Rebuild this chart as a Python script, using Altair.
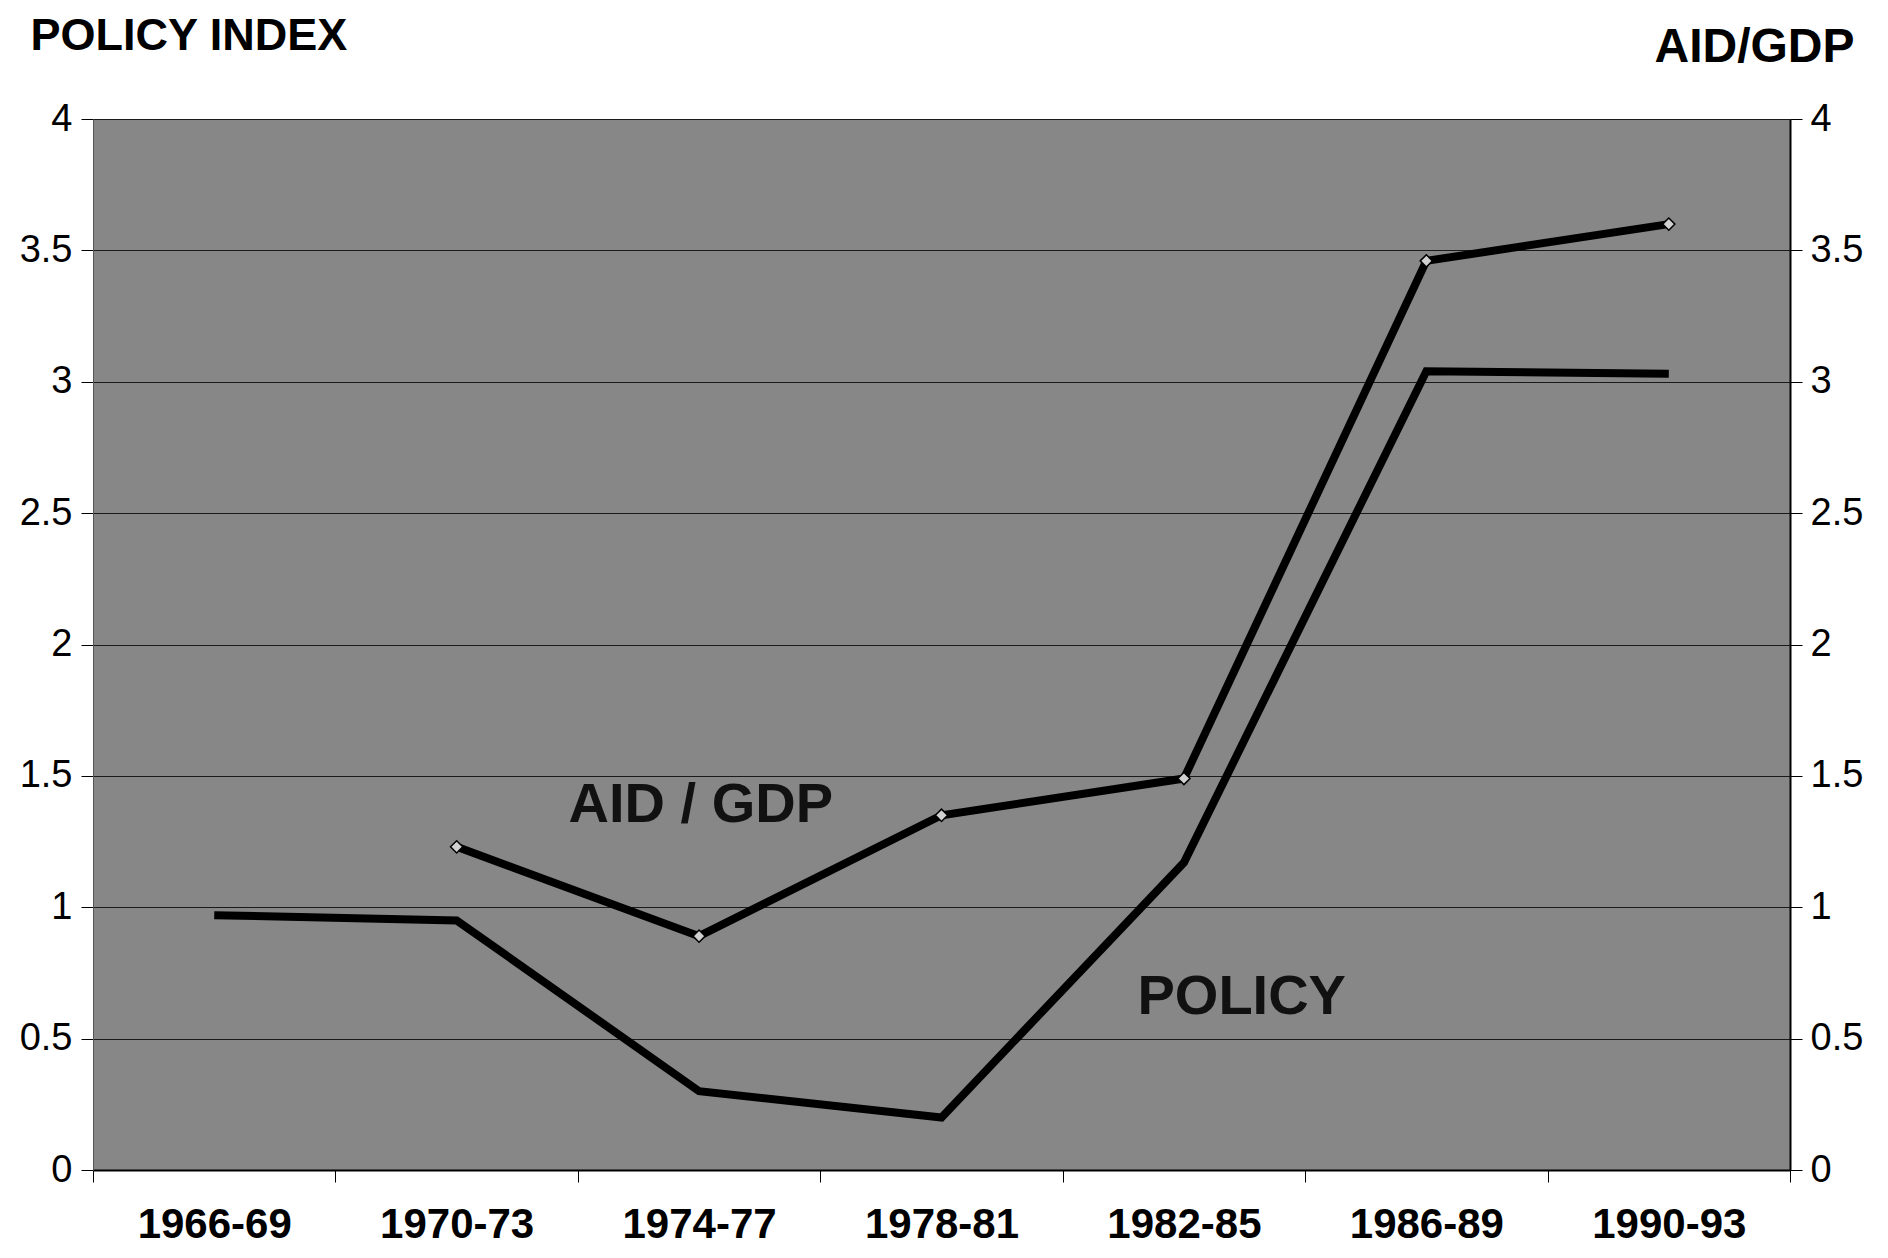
import altair as alt
import pandas as pd

periods = ["1966-69", "1970-73", "1974-77", "1978-81", "1982-85", "1986-89", "1990-93"]
policy = [0.97, 0.95, 0.30, 0.20, 1.17, 3.04, 3.03]
aid_periods = ["1970-73", "1974-77", "1978-81", "1982-85", "1986-89", "1990-93"]
aid_gdp = [1.23, 0.89, 1.35, 1.49, 3.46, 3.60]

label_text = ["AID / GDP", "POLICY"]
label_period = ["1974-77", "1982-85"]
label_value = [1.39, 0.66]
label_dx = [123, 179]

df_policy = pd.DataFrame({"period": periods, "value": policy})
df_aid = pd.DataFrame({"period": aid_periods, "value": aid_gdp})
df_lab = pd.DataFrame({"text": label_text, "period": label_period, "value": label_value, "dx": label_dx})

xenc = alt.X("period:N", sort=periods, scale=alt.Scale(domain=periods, paddingInner=0, paddingOuter=0),
             axis=alt.Axis(title=None, labelAngle=0, tickBand="extent", tickSize=12, tickColor="black",
                           domainColor="black", domainWidth=2,
                           labelFont="Liberation Sans Narrow, Arial Narrow, Liberation Sans",
                           labelFontWeight="bold", labelFontSize=42, labelColor="black", labelPadding=55,
                           labelBaseline="alphabetic", grid=False))

yscale = alt.Scale(domain=[0, 4], nice=False)
tick_vals = [0, 0.5, 1, 1.5, 2, 2.5, 3, 3.5, 4]

left_axis = alt.Axis(values=tick_vals, format="~g", grid=True, gridColor="#1a1a1a",
                     gridWidth=1, tickSize=12, tickColor="black", domainColor="#555", labelFont="Liberation Sans",
                     labelFontSize=38, labelColor="black", labelPadding=9,
                     title="POLICY INDEX", titleAngle=0, titleAlign="left", titleBaseline="alphabetic",
                     titleX=-63, titleY=-70, titleFont="Liberation Sans", titleFontSize=45, titleFontWeight="bold",
                     titleColor="black")
right_axis = alt.Axis(orient="right", values=tick_vals, format="~g", grid=False,
                      tickSize=12, tickColor="black", domainColor="black", domainWidth=2, labelFont="Liberation Sans",
                      labelFontSize=38, labelColor="black", labelPadding=8,
                      title="AID/GDP", titleAngle=0, titleAlign="right", titleBaseline="alphabetic",
                      titleX=64, titleY=-58, titleFont="Liberation Sans", titleFontSize=48, titleFontWeight="bold",
                      titleColor="black")

policy_line = alt.Chart(df_policy).mark_line(color="black", strokeWidth=8).encode(
    x=xenc, y=alt.Y("value:Q", scale=yscale, axis=left_axis))
labels = alt.Chart(df_lab).mark_text(font="Liberation Sans", fontSize=56, fontWeight="bold", color="#111",
                                     align="center", baseline="middle").encode(
    x=xenc, y=alt.Y("value:Q", scale=yscale, axis=left_axis), text="text:N",
    xOffset=alt.XOffset("dx:Q", scale=None))

aid_line = alt.Chart(df_aid).mark_line(color="black", strokeWidth=8).encode(
    x=xenc, y=alt.Y("value:Q", scale=yscale, axis=right_axis))
aid_pts = alt.Chart(df_aid).mark_point(shape="diamond", filled=True, fill="#d0d0d0", stroke="black",
                                       strokeWidth=1.5, size=150, opacity=1).encode(
    x=xenc, y=alt.Y("value:Q", scale=yscale, axis=right_axis))

left_layer = alt.layer(policy_line, labels)
right_layer = alt.layer(aid_line, aid_pts)

chart = alt.layer(left_layer, right_layer).resolve_scale(y="independent").properties(
    width=1697, height=1051,
    autosize=alt.AutoSizeParams(type="none"),
    padding={"left": 85, "top": 111, "right": 90, "bottom": 80},
    background="white",
).configure_view(fill="#878787", stroke=None)

chart.save("out.html", embed_options={"renderer": "svg", "actions": False})
